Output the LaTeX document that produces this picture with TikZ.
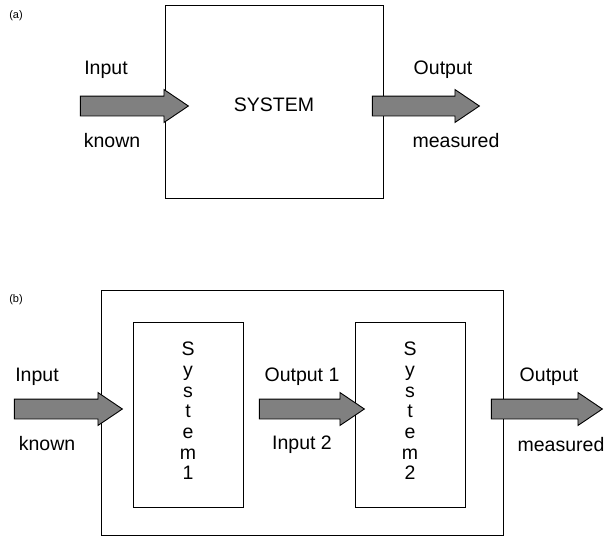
\documentclass[tikz,border=0pt]{standalone}
\usepackage{fontspec}
\setmainfont{Liberation Sans}
\usetikzlibrary{shapes.arrows}
\definecolor{arrowgray}{RGB}{128,128,128}

\begin{document}
\begin{tikzpicture}[yscale=-1
,boxstyle/.style={draw=black,line width=0.8pt,inner sep=0pt}
,fatarrow/.style={single arrow,draw=black,fill=arrowgray,line width=0.9pt,inner sep=9.5pt,single arrow head extend=6.5pt,single arrow tip angle=68}
,lbl/.style={font=\fontsize{19.5}{20.7}\selectfont,inner sep=0pt}
,tag/.style={font=\fontsize{11}{13}\selectfont,inner sep=0pt}
]
\useasboundingbox (0pt,0pt) rectangle (609pt,536pt);
% (a) one system
\node[tag] (taga) at (16pt,16pt) {(a)};
\node[boxstyle,minimum width=218pt,minimum height=193pt] (sys) at (274pt,101.5pt) {};
\node[lbl] (systxt) at (274pt,105pt) {SYSTEM};
\node[fatarrow,minimum height=108pt] (ina) at (127pt,106pt) {};
\node[fatarrow,minimum height=107pt] (outa) at (418.5pt,106pt) {};
\node[lbl] (inputa) at (106pt,70pt) {Input};
\node[lbl] (knowna) at (112pt,141pt) {known};
\node[lbl] (outputa) at (443pt,70pt) {Output};
\node[lbl] (measa) at (456pt,141pt) {measured};
% (b) two systems in series
\node[tag] (tagb) at (16pt,300pt) {(b)};
\node[boxstyle,minimum width=402pt,minimum height=245pt] (outer) at (302pt,412.5pt) {};
\node[boxstyle,minimum width=110pt,minimum height=185pt] (sysone) at (188pt,414.5pt) {};
\node[boxstyle,minimum width=110pt,minimum height=185pt] (systwo) at (410pt,414.5pt) {};
\node[lbl,align=center] (sysonetxt) at (188pt,411pt) {S\\y\\s\\t\\e\\m\\1};
\node[lbl,align=center] (systwotxt) at (410pt,411pt) {S\\y\\s\\t\\e\\m\\2};
\node[fatarrow,minimum height=108pt] (inb) at (61pt,409pt) {};
\node[fatarrow,minimum height=105pt] (midb) at (304.5pt,409pt) {};
\node[fatarrow,minimum height=111pt] (outb) at (539.5pt,409pt) {};
\node[lbl] (inputb) at (37pt,377pt) {Input};
\node[lbl] (knownb) at (47pt,444pt) {known};
\node[lbl] (outone) at (302pt,377pt) {Output 1};
\node[lbl] (intwo) at (302pt,445pt) {Input 2};
\node[lbl] (outputb) at (549pt,377pt) {Output};
\node[lbl] (measb) at (561pt,445pt) {measured};
\end{tikzpicture}
\end{document}
